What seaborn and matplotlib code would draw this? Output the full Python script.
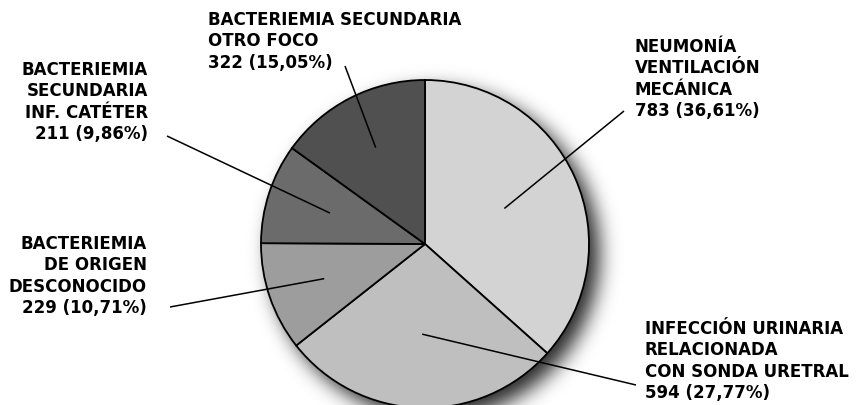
import matplotlib
matplotlib.use("Agg")
import matplotlib.pyplot as plt
import seaborn as sns
import numpy as np
from math import erf

sns.set_theme(style="white")
plt.rcParams['font.family'] = ['DejaVu Sans']

categories = [
    "NEUMONÍA\nVENTILACIÓN\nMECÁNICA",
    "INFECCIÓN URINARIA\nRELACIONADA\nCON SONDA URETRAL",
    "BACTERIEMIA\nDE ORIGEN\nDESCONOCIDO",
    "BACTERIEMIA\nSECUNDARIA\nINF. CATÉTER",
    "BACTERIEMIA SECUNDARIA\nOTRO FOCO",
]
counts = [783, 594, 229, 211, 322]
percents = ["36,61", "27,77", "10,71", "9,86", "15,05"]
colors = ["#d3d3d3", "#bfbfbf", "#9d9d9d", "#6b6b6b", "#505050"]

W, H = 858, 405
fig = plt.figure(figsize=(W / 100, H / 100), dpi=100)
ax = fig.add_axes([0, 0, 1, 1])

cx, cy, r = 425, H - 244, 164

# soft blurred shadow (styling only)
sx0, sy0, sig = cx + 10, cy - 10, 10.0
xs = np.arange(0, W, 1.0) + 0.5
ys = np.arange(0, H, 1.0) + 0.5
XX, YY = np.meshgrid(xs, ys)
D = np.hypot(XX - sx0, YY - sy0)
verf = np.vectorize(erf)
A = 0.85 * 0.5 * (1 - verf((D - r) / (np.sqrt(2) * sig)))
rgba = np.zeros((H, W, 4))
rgba[..., 3] = A
ax.imshow(rgba, extent=(0, W, 0, H), origin="lower", zorder=0,
          interpolation="bilinear")

wedges, _ = ax.pie(counts, colors=colors, startangle=90, counterclock=False,
                   center=(cx, cy), radius=r, frame=True,
                   wedgeprops=dict(edgecolor="black", linewidth=1.3, zorder=2))

# label layout (pixel coords, y down)
text_pos = [(635, 40, "left"), (645, 322, "left"), (147, 237, "right"),
            (148, 63, "right"), (208, 13, "left")]
line_ends = [(624, 111), (636, 385), (170, 307), (167, 136), (345, 66)]
start_frac = [0.53, 0.55, 0.65, 0.61, 0.66]

for i, w in enumerate(wedges):
    mid = np.deg2rad((w.theta1 + w.theta2) / 2)
    px = cx + start_frac[i] * r * np.cos(mid)
    py = cy + start_frac[i] * r * np.sin(mid)
    ex, ey = line_ends[i]
    ax.plot([px, ex], [py, H - ey], color="black", lw=1.1, zorder=3,
            solid_capstyle="butt")
    tx, ty, ha = text_pos[i]
    label = f"{categories[i]}\n{counts[i]} ({percents[i]}%)"
    ax.text(tx, H - ty + 2, label, ha=ha, va="top", multialignment=ha,
            fontsize=12, fontweight="bold", color="black",
            linespacing=1.24, zorder=4)

ax.set_xlim(0, W)
ax.set_ylim(0, H)
ax.set_aspect("equal")
ax.axis("off")
fig.savefig("out.png", dpi=100, facecolor="white")
